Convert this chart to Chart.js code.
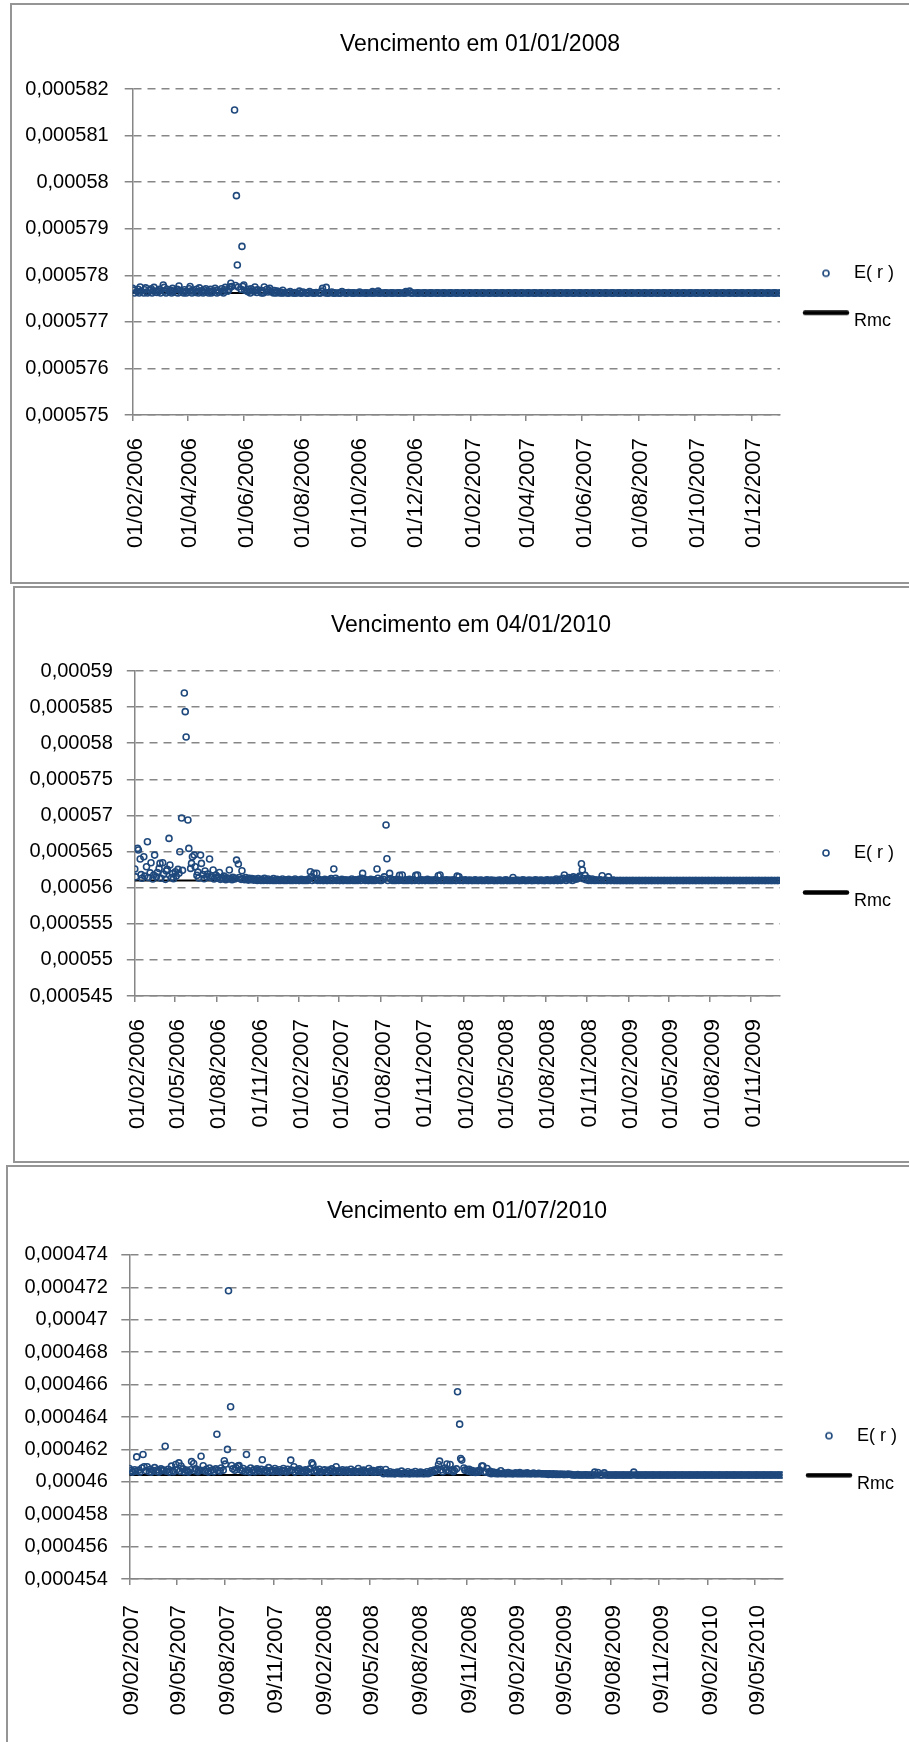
<!DOCTYPE html>
<html lang="pt">
<head>
<meta charset="utf-8">
<title>E(r) e Rmc por vencimento</title>
<script src="https://cdn.jsdelivr.net/npm/chart.js"></script>
<style>
  html, body { margin: 0; padding: 0; background: #fff; }
  body { width: 909px; height: 1742px; overflow: hidden; position: relative; }
  .box { position: absolute; border: 2px solid #959595; background: #fff; }
  .box canvas { display: block; }
</style>
</head>
<body>
<div class="box" style="left:10px;top:3px;"><canvas id="chart1" width="936" height="577"></canvas></div>
<div class="box" style="left:13px;top:586px;"><canvas id="chart2" width="912" height="573"></canvas></div>
<div class="box" style="left:6px;top:1165px;"><canvas id="chart3" width="918" height="590"></canvas></div>
<script>
// All E(r) and Rmc values below are in units of 1e-8.
const UNIT = 1e-8;

// ---------- Vencimento em 01/01/2008 (one value per trading day) ----------
const c1Title = 'Vencimento em 01/01/2008';
const c1First = '01/02/2006';
const c1Last = '01/01/2008';
const c1XTicks = ['01/02/2006','01/04/2006','01/06/2006','01/08/2006','01/10/2006','01/12/2006',
                  '01/02/2007','01/04/2007','01/06/2007','01/08/2007','01/10/2007','01/12/2007'];
const c1YTicks = ['0,000575','0,000576','0,000577','0,000578','0,000579','0,00058','0,000581','0,000582'];
const c1Rmc = 57762;
const c1Er = [
  57772,57768,57762,57765,57770,57762,57775,57766,57762,57769,57773,57764,57762,57768,57771,57762,57766,57774,57763,57767,
  57765,57770,57762,57779,57774,57766,57762,57770,57764,57768,57762,57772,57766,57763,57770,57762,57777,57768,57764,57762,
  57769,57765,57762,57771,57776,57766,57762,57768,57763,57770,57765,57762,57773,57767,57762,57769,57764,57771,57762,57766,
  57770,57762,57765,57772,57767,57762,57768,57764,57771,57765,57762,57769,57774,57766,57770,57775,57783,57776,58155,57778,
  57971,57822,57775,57770,57862,57776,57779,57768,57765,57770,57766,57762,57771,57765,57775,57768,57763,57769,57765,57762,
  57767,57762,57775,57770,57764,57768,57772,57765,57762,57767,57763,57762,57766,57762,57764,57762,57768,57762,57763,57762,
  57762,57762,57765,57762,57762,57763,57762,57762,57766,57762,57762,57762,57764,57762,57762,57762,57762,57765,57762,57762,
  57762,57762,57763,57762,57762,57762,57766,57772,57762,57774,57762,57762,57762,57764,57762,57762,57762,57762,57762,57762,
  57762,57762,57765,57762,57762,57762,57762,57763,57762,57762,57762,57762,57762,57762,57762,57764,57762,57762,57762,57762,
  57762,57762,57762,57762,57762,57765,57762,57762,57762,57766,57762,57762,57762,57762,57762,57762,57762,57762,57762,57762,
  57762,57762,57762,57762,57762,57762,57762,57762,57762,57762,57762,57765,57762,57766,57762,57762,57762,57762,57762,57762,
  57762,57762,57762,57762,57762,57762,57762,57762,57762,57762,57762,57762,57762,57762,57762,57762,57762,57762,57762,57762,
  57762,57762,57762,57762,57762,57762,57762,57762,57762,57762,57762,57762,57762,57762,57762,57762,57762,57762,57762,57762,
  57762,57762,57762,57762,57762,57762,57762,57762,57762,57762,57762,57762,57762,57762,57762,57762,57762,57762,57762,57762,
  57762,57762,57762,57762,57762,57762,57762,57762,57762,57762,57762,57762,57762,57762,57762,57762,57762,57762,57762,57762,
  57762,57762,57762,57762,57762,57762,57762,57762,57762,57762,57762,57762,57762,57762,57762,57762,57762,57762,57762,57762,
  57762,57762,57762,57762,57762,57762,57762,57762,57762,57762,57762,57762,57762,57762,57762,57762,57762,57762,57762,57762,
  57762,57762,57762,57762,57762,57762,57762,57762,57762,57762,57762,57762,57762,57762,57762,57762,57762,57762,57762,57762,
  57762,57762,57762,57762,57762,57762,57762,57762,57762,57762,57762,57762,57762,57762,57762,57762,57762,57762,57762,57762,
  57762,57762,57762,57762,57762,57762,57762,57762,57762,57762,57762,57762,57762,57762,57762,57762,57762,57762,57762,57762,
  57762,57762,57762,57762,57762,57762,57762,57762,57762,57762,57762,57762,57762,57762,57762,57762,57762,57762,57762,57762,
  57762,57762,57762,57762,57762,57762,57762,57762,57762,57762,57762,57762,57762,57762,57762,57762,57762,57762,57762,57762,
  57762,57762,57762,57762,57762,57762,57762,57762,57762,57762,57762,57762,57762,57762,57762,57762,57762,57762,57762,57762,
  57762,57762,57762,57762,57762,57762,57762,57762,57762,57762,57762,57762,57762,57762,57762,57762,57762,57762,57762,57762,
  57762,57762,57762,57762,57762,57762,57762,57762,57762,57762,57762,57762,57762,57762,57762,57762,57762,57762,57762,57762
];

// ---------- Vencimento em 04/01/2010 (every second trading day) ----------
const c2Title = 'Vencimento em 04/01/2010';
const c2First = '01/02/2006';
const c2Last = '04/01/2010';
const c2XTicks = ['01/02/2006','01/05/2006','01/08/2006','01/11/2006','01/02/2007','01/05/2007','01/08/2007','01/11/2007',
                  '01/02/2008','01/05/2008','01/08/2008','01/11/2008','01/02/2009','01/05/2009','01/08/2009','01/11/2009'];
const c2YTicks = ['0,000545','0,00055','0,000555','0,00056','0,000565','0,00057','0,000575','0,00058','0,000585','0,00059'];
const c2Rmc = 56100;
const c2Er = [
  56258,56150,56544,56521,56396,56180,56130,56428,56160,56290,56636,56140,56205,56345,56120,56175,
  56451,56150,56210,56267,56336,56130,56345,56185,56115,56230,56253,56682,56313,56140,56195,56125,
  56220,56160,56253,56198,56498,56964,56240,58695,58437,58086,56936,56544,56267,56336,56428,56451,
  56290,56170,56215,56135,56451,56336,56180,56125,56230,56150,56190,56396,56140,56165,56244,56120,
  56175,56130,56150,56211,56115,56140,56125,56160,56110,56135,56120,56244,56130,56110,56145,56120,
  56130,56382,56327,56140,56115,56235,56125,56110,56140,56120,56105,56130,56110,56125,56105,56120,
  56110,56100,56125,56105,56100,56115,56100,56130,56105,56100,56120,56100,56110,56100,56125,56100,
  56100,56115,56100,56105,56100,56120,56100,56100,56110,56100,56115,56100,56100,56105,56100,56120,
  56100,56105,56100,56100,56115,56100,56100,56110,56100,56100,56120,56221,56150,56100,56198,56110,
  56200,56100,56120,56100,56105,56100,56100,56115,56100,56100,56110,56100,56125,56100,56258,56130,
  56100,56105,56100,56100,56115,56100,56100,56110,56100,56100,56105,56100,56120,56100,56100,56110,
  56100,56100,56115,56100,56130,56198,56120,56100,56105,56100,56100,56115,56100,56100,56110,56100,
  56258,56130,56100,56105,56100,56115,56150,56867,56400,56100,56198,56125,56100,56110,56100,56100,
  56115,56100,56170,56105,56175,56100,56100,56110,56100,56100,56115,56100,56100,56105,56100,56170,
  56175,56100,56100,56110,56100,56105,56100,56100,56115,56100,56100,56105,56100,56100,56110,56100,
  56100,56165,56175,56100,56105,56100,56100,56110,56100,56100,56105,56100,56100,56110,56100,56100,
  56160,56152,56100,56105,56100,56100,56110,56100,56100,56100,56105,56100,56100,56100,56110,56100,
  56100,56100,56105,56100,56100,56100,56100,56110,56100,56100,56100,56105,56100,56100,56100,56100,
  56100,56105,56100,56100,56100,56100,56110,56100,56100,56100,56100,56100,56140,56100,56100,56105,
  56100,56100,56100,56100,56110,56100,56100,56100,56100,56105,56100,56100,56100,56100,56110,56100,
  56100,56100,56105,56100,56100,56100,56100,56110,56100,56100,56100,56105,56100,56100,56120,56100,
  56100,56115,56100,56110,56130,56175,56100,56120,56140,56110,56125,56100,56150,56115,56135,56120,
  56140,56160,56331,56246,56125,56170,56110,56130,56100,56115,56100,56120,56100,56110,56100,56105,
  56100,56110,56100,56165,56100,56105,56100,56100,56150,56100,56100,56105,56100,56100,56100,56100,
  56100,56100,56100,56100,56100,56100,56100,56100,56100,56100,56100,56100,56100,56100,56100,56100,
  56100,56100,56100,56100,56100,56100,56100,56100,56100,56100,56100,56100,56100,56100,56100,56100,
  56100,56100,56100,56100,56100,56100,56100,56100,56100,56100,56100,56100,56100,56100,56100,56100,
  56100,56100,56100,56100,56100,56100,56100,56100,56100,56100,56100,56100,56100,56100,56100,56100,
  56100,56100,56100,56100,56100,56100,56100,56100,56100,56100,56100,56100,56100,56100,56100,56100,
  56100,56100,56100,56100,56100,56100,56100,56100,56100,56100,56100,56100,56100,56100,56100,56100,
  56100,56100,56100,56100,56100,56100,56100,56100,56100,56100,56100,56100,56100,56100,56100,56100,
  56100,56100,56100,56100,56100,56100,56100,56100,56100,56100,56100,56100,56100,56100,56100,56100
];

// ---------- Vencimento em 01/07/2010 (every second trading day) ----------
const c3Title = 'Vencimento em 01/07/2010';
const c3First = '09/02/2007';
const c3Last = '01/07/2010';
const c3XTicks = ['09/02/2007','09/05/2007','09/08/2007','09/11/2007','09/02/2008','09/05/2008','09/08/2008',
                  '09/11/2008','09/02/2009','09/05/2009','09/08/2009','09/11/2009','09/02/2010','09/05/2010'];
const c3YTicks = ['0,000454','0,000456','0,000458','0,00046','0,000462','0,000464','0,000466',
                  '0,000468','0,00047','0,000472','0,000474'];
const c3Rmc = 46042;
const c3Er = [
  46082,46070,46060,46075,46065,46154,46072,46060,46085,46169,46093,46068,46093,46062,46078,46060,46070,46088,46064,46075,
  46060,46080,46068,46072,46220,46065,46078,46060,46097,46070,46062,46107,46075,46117,46066,46098,46080,46062,46072,46068,
  46060,46075,46125,46113,46068,46080,46062,46072,46158,46070,46099,46065,46078,46060,46085,46068,46074,46062,46080,46294,
  46070,46066,46085,46072,46130,46109,46200,47179,46463,46101,46080,46072,46088,46097,46100,46075,46068,46082,46064,46169,
  46072,46060,46085,46068,46076,46062,46080,46070,46066,46078,46136,46065,46074,46060,46088,46068,46072,46062,46082,46070,
  46064,46075,46060,46070,46082,46066,46060,46078,46068,46134,46072,46093,46060,46075,46066,46080,46062,46070,46060,46074,
  46068,46060,46080,46117,46107,46066,46072,46060,46078,46064,46060,46070,46075,46062,46060,46072,46066,46080,46060,46068,
  46093,46062,46070,46060,46075,46066,46060,46072,46064,46060,46078,46060,46068,46062,46060,46082,46066,46060,46072,46060,
  46064,46060,46082,46068,46060,46070,46060,46062,46074,46060,46076,46056,46050,46076,46055,46050,46062,46050,46058,46050,
  46050,46060,46052,46050,46066,46050,46055,46050,46062,46050,46050,46058,46050,46064,46050,46052,46050,46060,46050,46056,
  46050,46062,46050,46055,46068,46060,46072,46065,46080,46107,46128,46075,46062,46085,46070,46110,46068,46107,46075,46062,
  46070,46080,46556,46356,46144,46134,46085,46072,46076,46065,46078,46060,46070,46062,46058,46066,46060,46072,46098,46097,
  46062,46060,46082,46055,46065,46050,46060,46052,46050,46058,46050,46068,46050,46055,46050,46050,46058,46050,46052,46050,
  46050,46055,46050,46050,46058,46050,46050,46052,46050,46056,46050,46050,46050,46054,46050,46050,46050,46052,46050,46050,
  46050,46048,46050,46046,46050,46048,46046,46050,46045,46048,46046,46045,46048,46045,46046,46045,46045,46048,46045,46045,
  46042,46042,46042,46045,46042,46042,46042,46042,46044,46042,46042,46042,46042,46042,46042,46060,46042,46058,46042,46042,
  46042,46055,46042,46042,46042,46042,46042,46042,46042,46042,46042,46042,46042,46042,46042,46042,46042,46042,46042,46042,
  46042,46060,46042,46042,46042,46042,46042,46042,46042,46042,46042,46042,46042,46042,46042,46042,46042,46042,46042,46042,
  46042,46042,46042,46042,46042,46042,46042,46042,46042,46042,46042,46042,46042,46042,46042,46042,46042,46042,46042,46042,
  46042,46042,46042,46042,46042,46042,46042,46042,46042,46042,46042,46042,46042,46042,46042,46042,46042,46042,46042,46042,
  46042,46042,46042,46042,46042,46042,46042,46042,46042,46042,46042,46042,46042,46042,46042,46042,46042,46042,46042,46042,
  46042,46042,46042,46042,46042,46042,46042,46042,46042,46042,46042,46042,46042,46042,46042,46042,46042,46042,46042,46042,
  46042,46042,46042
];

// ---------- styling ----------
const BLUE = '#1F497D';
const AXIS = '#868686';
const GRID = '#878787';
const FONT = "'Liberation Sans', Arial, sans-serif";

// dd/mm/yyyy -> whole days since 1970-01-01
function dayOf(label) {
  const [d, m, y] = label.split('/').map(Number);
  return Date.UTC(y, m - 1, d) / 864e5;
}

// Mon–Fri calendar between two dates, keeping every n-th trading day
function tradingDays(first, last, every) {
  const out = [];
  let n = 0;
  for (let d = dayOf(first); d <= dayOf(last); d++) {
    const wd = new Date(d * 864e5).getUTCDay();
    if (wd === 0 || wd === 6) continue;
    if (n % every === 0) out.push(d);
    n++;
  }
  return out;
}

// legend symbols: hollow marker for E(r), thick bar for Rmc
function circleIcon() {
  const cv = document.createElement('canvas');
  cv.width = 10; cv.height = 10;
  const g = cv.getContext('2d');
  g.strokeStyle = BLUE; g.lineWidth = 1.6;
  g.beginPath(); g.arc(5, 5, 3, 0, Math.PI * 2); g.stroke();
  return cv;
}
function barIcon() {
  const cv = document.createElement('canvas');
  cv.width = 50; cv.height = 22;
  const g = cv.getContext('2d');
  g.strokeStyle = '#000'; g.lineWidth = 4.5; g.lineCap = 'round';
  g.beginPath(); g.moveTo(4, 2.5); g.lineTo(46, 2.5); g.stroke();
  return cv;
}
const legendIcons = [circleIcon(), barIcon()];

function legendItems(chart) {
  const items = Chart.defaults.plugins.legend.labels.generateLabels(chart);
  items.forEach((it, k) => { it.pointStyle = legendIcons[k]; });
  return items;
}

// pins the legend block at a fixed spot beside the plot
const legendPlacement = {
  id: 'legendPlacement',
  afterLayout(chart, _args, opts) {
    const lg = chart.legend;
    if (!lg || !opts || !opts.at) return;
    const w = lg.width, h = lg.height;
    lg.left = opts.at.x; lg.top = opts.at.y;
    lg.right = lg.left + w; lg.bottom = lg.top + h;
  }
};

function drawPanel(p) {
  const days = tradingDays(p.first, p.last, p.every);
  const points = [];
  for (let i = 0; i < days.length && i < p.values.length; i++) {
    points.push({ x: days[i], y: p.values[i] * UNIT });
  }
  const xMin = dayOf(p.first), xMax = dayOf(p.last);
  const xTickVals = p.xLabels.map(dayOf);
  const yTickVals = p.yLabels.map(s => parseFloat(s.replace(',', '.')));

  new Chart(document.getElementById(p.id), {
    type: 'scatter',
    data: {
      datasets: [
        {
          label: 'E( r )', data: points, xAxisID: 'x', yAxisID: 'y',
          pointStyle: 'circle', pointRadius: 3, pointHoverRadius: 3, pointBorderWidth: 1.6,
          borderColor: BLUE, backgroundColor: 'rgba(0,0,0,0)'
        },
        {
          type: 'line', label: 'Rmc', xAxisID: 'x', yAxisID: 'y',
          data: [{ x: xMin, y: p.rmc * UNIT }, { x: xMax, y: p.rmc * UNIT }],
          borderColor: '#000', backgroundColor: '#000', borderWidth: 2,
          pointRadius: 0, pointHoverRadius: 0, fill: false
        }
      ]
    },
    options: {
      responsive: false, animation: false, devicePixelRatio: 1, events: [],
      layout: { padding: 0 },
      plugins: {
        title: {
          display: true, text: p.title, color: '#000',
          font: { family: FONT, size: 23, weight: 'normal' },
          padding: p.titlePad
        },
        legend: {
          display: true, position: 'chartArea', align: 'start',
          labels: {
            usePointStyle: true, pointStyleWidth: 38, padding: 30, color: '#000',
            font: { family: FONT, size: 18 }, generateLabels: legendItems
          }
        },
        tooltip: { enabled: false },
        legendPlacement: { at: p.legendAt }
      },
      scales: {
        x: {
          type: 'linear', position: 'bottom', min: xMin, max: xMax,
          afterBuildTicks: s => { s.ticks = xTickVals.map(v => ({ value: v })); },
          afterFit: s => { s.height = p.xHeight; },
          ticks: {
            autoSkip: false, minRotation: 90, maxRotation: 90, padding: p.xPad, labelOffset: p.xOffset,
            color: '#000', font: { family: FONT, size: 22 }, callback: (v, i) => p.xLabels[i]
          },
          grid: { display: true, drawOnChartArea: false, drawTicks: true, tickLength: 6, color: AXIS, lineWidth: 1.5 },
          border: { display: true, color: AXIS, width: 1.5 }
        },
        y: {
          type: 'linear', position: 'left', min: yTickVals[0], max: yTickVals[yTickVals.length - 1],
          afterBuildTicks: s => { s.ticks = yTickVals.map(v => ({ value: v })); },
          afterFit: s => { s.width = p.yWidth; },
          ticks: { padding: p.yPad, color: '#000', font: { family: FONT, size: 20 }, callback: (v, i) => p.yLabels[i] },
          grid: { display: true, drawTicks: true, tickLength: 8, color: GRID, lineWidth: 1.5,
                  tickColor: AXIS, tickWidth: 1.5, tickBorderDash: [] },
          border: { display: true, color: AXIS, width: 1.5, dash: [8, 6] }
        },
        legendSpace: {
          type: 'linear', position: 'right', display: true,
          grid: { display: false }, ticks: { display: false }, border: { display: false },
          afterFit: s => { s.width = p.padRight; }
        }
      }
    },
    plugins: [legendPlacement]
  });
}

drawPanel({ id: 'chart1', title: c1Title, first: c1First, last: c1Last, every: 1, values: c1Er, rmc: c1Rmc,
  xLabels: c1XTicks, yLabels: c1YTicks, yWidth: 120.7, yPad: 16, xHeight: 167, xPad: 17, xOffset: 3,
  padRight: 168, titlePad: { top: 26.2, bottom: 30.2 }, legendAt: { x: 765, y: 229.3 } });

drawPanel({ id: 'chart2', title: c2Title, first: c2First, last: c2Last, every: 2, values: c2Er, rmc: c2Rmc,
  xLabels: c2XTicks, yLabels: c2YTicks, yWidth: 119.8, yPad: 14, xHeight: 165, xPad: 17, xOffset: 3,
  padRight: 147, titlePad: { top: 23.7, bottom: 31.7 }, legendAt: { x: 762, y: 226 } });

drawPanel({ id: 'chart3', title: c3Title, first: c3First, last: c3Last, every: 2, values: c3Er, rmc: c3Rmc,
  xLabels: c3XTicks, yLabels: c3YTicks, yWidth: 121.3, yPad: 13.5, xHeight: 177.9, xPad: 20, xOffset: 3,
  padRight: 143.4, titlePad: { top: 31.2, bottom: 29.1 }, legendAt: { x: 772, y: 229.7 } });
</script>
</body>
</html>
